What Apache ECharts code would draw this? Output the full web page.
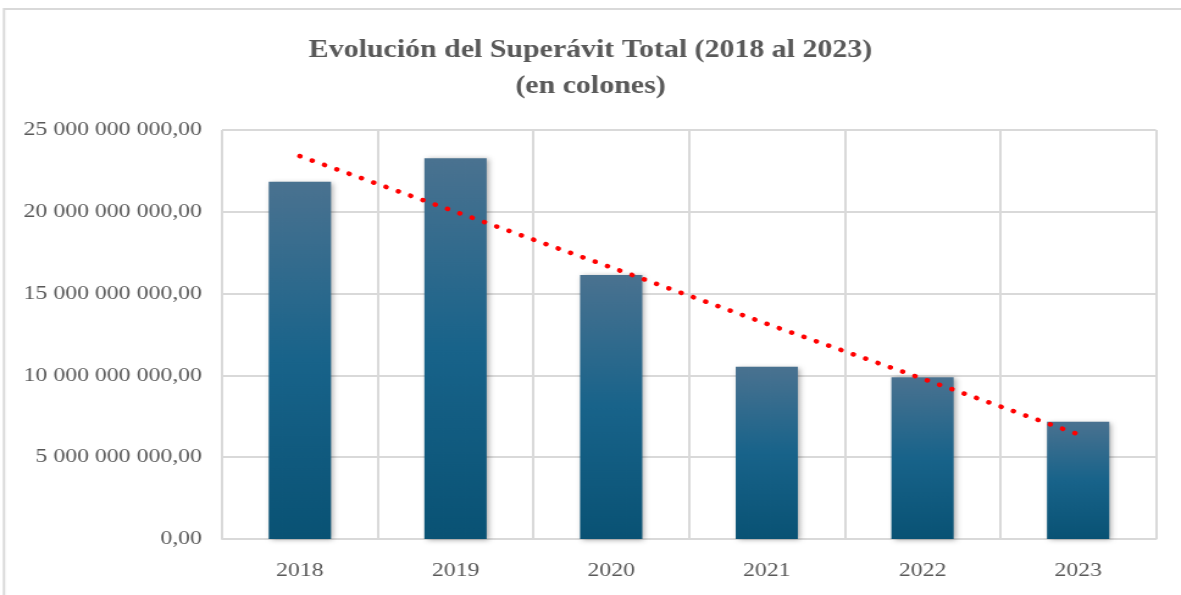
<!DOCTYPE html>
<html>
<head>
<meta charset="utf-8">
<script src="https://cdn.jsdelivr.net/npm/echarts@6/dist/echarts.min.js"></script>
<style>
    html, body { margin: 0; padding: 0; background: #fff; overflow: hidden; }
    /* el original está estirado en horizontal (~1.22x) */
    #main {
        width: 968px;
        height: 595px;
        transform: scaleX(1.22);
        transform-origin: 0 0;
    }
</style>
</head>
<body>
<div id="main"></div>
<script>
// datos (colones)
var years = ['2018', '2019', '2020', '2021', '2022', '2023'];
var superavit = [21840000000, 23270000000, 16130000000, 10530000000, 9880000000, 7170000000];
// línea de tendencia
var tendencia = [23400000000, 20000000000, 16600000000, 13150000000, 9800000000, 6400000000];
var yTicks = { min: 0, max: 25000000000, interval: 5000000000 };

function fmtColones(v) {
    var s = Math.round(v).toString().replace(/\B(?=(\d{3})+(?!\d))/g, ' ');
    return s + ',00';
}

var gris = '#595959';
var serif = 'Liberation Serif, Times New Roman, serif';

var myChart = echarts.init(document.getElementById('main'));
var option = {
    backgroundColor: '#fff',
    animation: false,
    title: {
        text: 'Evolución del Superávit Total (2018 al 2023)\n(en colones)',
        left: 'center',
        top: 28,
        textStyle: {
            fontFamily: serif,
            fontWeight: 'bold',
            fontSize: 24.5,
            lineHeight: 36,
            color: gris
        }
    },
    graphic: [
        {
            type: 'rect',
            shape: { x: 3.3, y: 9, width: 2000, height: 1000 },
            style: { fill: 'none', stroke: '#d9d9d9', lineWidth: 2 },
            silent: true
        }
    ],
    grid: {
        left: 182,
        right: 20.5,
        top: 130,
        bottom: 56
    },
    xAxis: {
        type: 'category',
        data: years,
        boundaryGap: true,
        axisLine: { show: true, lineStyle: { color: '#d9d9d9', width: 2 } },
        axisTick: { show: false },
        splitLine: { show: true, lineStyle: { color: '#d9d9d9', width: 2 } },
        axisLabel: {
            fontFamily: serif,
            fontSize: 19.5,
            color: gris,
            margin: 22
        }
    },
    yAxis: {
        type: 'value',
        min: yTicks.min,
        max: yTicks.max,
        interval: yTicks.interval,
        axisLine: { show: false },
        axisTick: { show: false },
        splitLine: { show: true, lineStyle: { color: '#d9d9d9', width: 2 } },
        axisLabel: {
            fontFamily: serif,
            fontSize: 19.5,
            color: gris,
            margin: 16.5,
            formatter: fmtColones
        }
    },
    series: [
        {
            name: 'Superávit',
            type: 'bar',
            data: superavit,
            barWidth: '40%',
            itemStyle: {
                color: new echarts.graphic.LinearGradient(0, 0, 0, 1, [
                    { offset: 0, color: '#4a7290' },
                    { offset: 0.5, color: '#18638a' },
                    { offset: 1, color: '#095274' }
                ]),
                shadowColor: 'rgba(0, 0, 0, 0.35)',
                shadowBlur: 5,
                shadowOffsetX: 2,
                shadowOffsetY: 1
            },
            z: 2
        },
        {
            name: 'Tendencia',
            type: 'line',
            data: tendencia,
            symbol: 'none',
            lineStyle: {
                color: '#ff0000',
                width: 4.6,
                type: [0.1, 10.9],
                cap: 'round'
            },
            z: 3
        }
    ]
};
myChart.setOption(option);
</script>
</body>
</html>
